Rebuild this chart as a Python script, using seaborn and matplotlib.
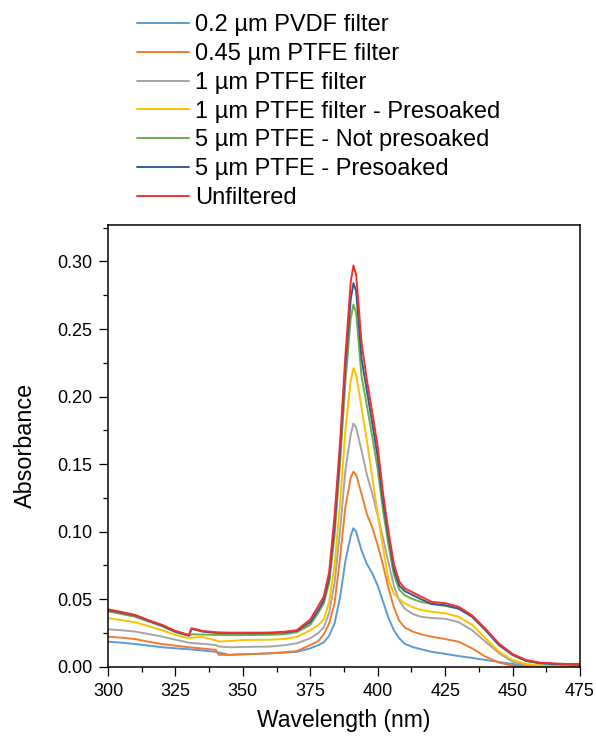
import numpy as np
import pandas as pd
import matplotlib
matplotlib.use("Agg")
import matplotlib.pyplot as plt
import seaborn as sns

wavelength = [300, 305, 310, 315, 320, 325, 330, 331, 335, 340, 341, 345, 350, 355, 360,
              365, 370, 375, 378, 380, 382, 384, 386, 388, 390, 391, 392, 394, 396, 398,
              400, 402, 404, 406, 408, 410, 413, 416, 420, 425, 430, 435, 440, 445, 450,
              455, 460, 465, 470, 475]

series_names = ["0.2 \u00b5m PVDF filter", "0.45 \u00b5m PTFE filter", "1 \u00b5m PTFE filter",
                "1 \u00b5m PTFE filter - Presoaked", "5 \u00b5m PTFE - Not presoaked",
                "5 \u00b5m PTFE - Presoaked", "Unfiltered"]

pvdf_02 = [0.0185, 0.0178, 0.0168, 0.0156, 0.0144, 0.0136, 0.0129, 0.0128, 0.0120, 0.0110,
           0.0105, 0.0088, 0.0092, 0.0095, 0.0099, 0.0104, 0.0110, 0.0136, 0.0160, 0.0180,
           0.0230, 0.0320, 0.0510, 0.0780, 0.0970, 0.1025, 0.1000, 0.0860, 0.0760, 0.0690,
           0.0600, 0.0480, 0.0360, 0.0270, 0.0210, 0.0170, 0.0145, 0.0130, 0.0110, 0.0095,
           0.0079, 0.0065, 0.0050, 0.0035, 0.0020, 0.0010, 0.0007, 0.0006, 0.0005, 0.0005]

ptfe_045 = [0.0222, 0.0215, 0.0205, 0.0185, 0.0168, 0.0155, 0.0144, 0.0142, 0.0135, 0.0124,
            0.0088, 0.0087, 0.0092, 0.0095, 0.0099, 0.0106, 0.0116, 0.0160, 0.0190, 0.0240,
            0.0320, 0.0470, 0.0800, 0.1180, 0.1400, 0.1444, 0.1420, 0.1280, 0.1130, 0.1030,
            0.0900, 0.0750, 0.0580, 0.0440, 0.0340, 0.0290, 0.0260, 0.0240, 0.0222, 0.0205,
            0.0185, 0.0136, 0.0074, 0.0030, 0.0007, 0.0002, 0.0002, 0.0003, 0.0003, 0.0003]

ptfe_1 = [0.0277, 0.0270, 0.0260, 0.0242, 0.0223, 0.0200, 0.0178, 0.0175, 0.0170, 0.0160,
          0.0150, 0.0144, 0.0146, 0.0148, 0.0149, 0.0158, 0.0173, 0.0210, 0.0250, 0.0290,
          0.0400, 0.0620, 0.1000, 0.1450, 0.1720, 0.1800, 0.1770, 0.1600, 0.1420, 0.1280,
          0.1120, 0.0950, 0.0770, 0.0600, 0.0490, 0.0430, 0.0390, 0.0370, 0.0360, 0.0355,
          0.0330, 0.0270, 0.0185, 0.0100, 0.0037, 0.0012, 0.0006, 0.0005, 0.0004, 0.0004]

ptfe_1_pre = [0.0360, 0.0345, 0.0330, 0.0300, 0.0270, 0.0235, 0.0210, 0.0215, 0.0220, 0.0195,
              0.0186, 0.0190, 0.0198, 0.0199, 0.0200, 0.0205, 0.0220, 0.0270, 0.0310, 0.0350,
              0.0480, 0.0750, 0.1200, 0.1750, 0.2120, 0.2210, 0.2160, 0.1920, 0.1670, 0.1400,
              0.1130, 0.0880, 0.0640, 0.0540, 0.0500, 0.0470, 0.0440, 0.0420, 0.0407, 0.0395,
              0.0370, 0.0310, 0.0210, 0.0110, 0.0050, 0.0020, 0.0010, 0.0008, 0.0005, 0.0003]

ptfe_5_notpre = [0.0410, 0.0390, 0.0370, 0.0335, 0.0300, 0.0255, 0.0228, 0.0240, 0.0238, 0.0235,
                 0.0235, 0.0234, 0.0234, 0.0235, 0.0236, 0.0240, 0.0255, 0.0310, 0.0400, 0.0470,
                 0.0620, 0.0970, 0.1500, 0.2100, 0.2580, 0.2680, 0.2620, 0.2150, 0.1930, 0.1700,
                 0.1460, 0.1150, 0.0900, 0.0680, 0.0570, 0.0530, 0.0500, 0.0480, 0.0464, 0.0450,
                 0.0430, 0.0370, 0.0270, 0.0160, 0.0086, 0.0042, 0.0025, 0.0018, 0.0015, 0.0012]

ptfe_5_pre = [0.0420, 0.0400, 0.0380, 0.0340, 0.0305, 0.0260, 0.0232, 0.0280, 0.0260, 0.0250,
              0.0250, 0.0248, 0.0248, 0.0248, 0.0249, 0.0253, 0.0265, 0.0330, 0.0420, 0.0490,
              0.0660, 0.1040, 0.1580, 0.2220, 0.2720, 0.2840, 0.2780, 0.2280, 0.2040, 0.1800,
              0.1550, 0.1220, 0.0960, 0.0720, 0.0600, 0.0560, 0.0530, 0.0500, 0.0465, 0.0455,
              0.0430, 0.0370, 0.0270, 0.0160, 0.0088, 0.0044, 0.0027, 0.0020, 0.0018, 0.0015]

unfiltered = [0.0425, 0.0405, 0.0384, 0.0345, 0.0310, 0.0265, 0.0235, 0.0285, 0.0265, 0.0255,
              0.0254, 0.0252, 0.0252, 0.0252, 0.0253, 0.0258, 0.0270, 0.0350, 0.0450, 0.0520,
              0.0700, 0.1120, 0.1650, 0.2300, 0.2850, 0.2970, 0.2900, 0.2400, 0.2120, 0.1880,
              0.1630, 0.1280, 0.1000, 0.0760, 0.0630, 0.0580, 0.0550, 0.0520, 0.0480, 0.0470,
              0.0444, 0.0380, 0.0280, 0.0170, 0.0094, 0.0050, 0.0030, 0.0025, 0.0020, 0.0020]

series_values = [pvdf_02, ptfe_045, ptfe_1, ptfe_1_pre, ptfe_5_notpre, ptfe_5_pre, unfiltered]
colors = ["#5B9BD5", "#ED7D31", "#A5A5A5", "#FFC000", "#70AD47", "#2F5D95", "#F23030"]

x_ticks = [300, 325, 350, 375, 400, 425, 450, 475]
y_ticks = [0.00, 0.05, 0.10, 0.15, 0.20, 0.25, 0.30]

rows = []
for name, vals in zip(series_names, series_values):
    for w, v in zip(wavelength, vals):
        rows.append({"Wavelength (nm)": w, "Absorbance": v, "Sample": name})
df = pd.DataFrame(rows)

sns.set_style("ticks")
plt.rcParams["font.family"] = ["Liberation Sans", "DejaVu Sans"]
plt.rcParams["text.color"] = "black"
plt.rcParams["axes.labelcolor"] = "black"
plt.rcParams["xtick.color"] = "black"
plt.rcParams["ytick.color"] = "black"

fig = plt.figure(figsize=(5.96, 7.36), dpi=100)
ax = fig.add_axes([108 / 596, 1 - 666.7 / 736, 472 / 596, (666.7 - 225) / 736])

sns.lineplot(data=df, x="Wavelength (nm)", y="Absorbance", hue="Sample",
             hue_order=series_names, palette=colors, linewidth=1.4, ax=ax,
             legend=True, estimator=None, sort=False)

ax.set_xlim(300, 475)
ax.set_ylim(0, 0.327)
ax.set_xticks(x_ticks)
ax.set_xticklabels([str(t) for t in x_ticks])
ax.set_yticks(y_ticks)
ax.set_yticklabels([f"{t:.2f}" for t in y_ticks])
ax.set_xticks(np.arange(312.5, 475, 25), minor=True)
ax.set_yticks(np.arange(0.025, 0.33, 0.05), minor=True)
ax.tick_params(axis="both", which="major", labelsize=13, length=6.5, width=0.9,
               direction="out", colors="black", pad=5)
ax.tick_params(axis="both", which="minor", length=3.3, width=0.9, direction="out",
               colors="black")
for s in ax.spines.values():
    s.set_visible(True)
    s.set_linewidth(1.1)
    s.set_color("black")
ax.set_xlabel("Wavelength (nm)", fontsize=16.5, labelpad=7, color="black")
ax.set_ylabel("Absorbance", fontsize=16.8, labelpad=14, color="black")

handles, labels = ax.get_legend_handles_labels()
ax.get_legend().remove()
leg = fig.legend(handles, labels, loc="upper left", bbox_to_anchor=(137 / 596, 1 - 14.5 / 736),
                 frameon=False, fontsize=17, handlelength=2.2, handletextpad=0.25,
                 labelspacing=0.285, borderpad=0, borderaxespad=0)
for t in leg.get_texts():
    t.set_color("black")

fig.savefig("out.png", dpi=100)
